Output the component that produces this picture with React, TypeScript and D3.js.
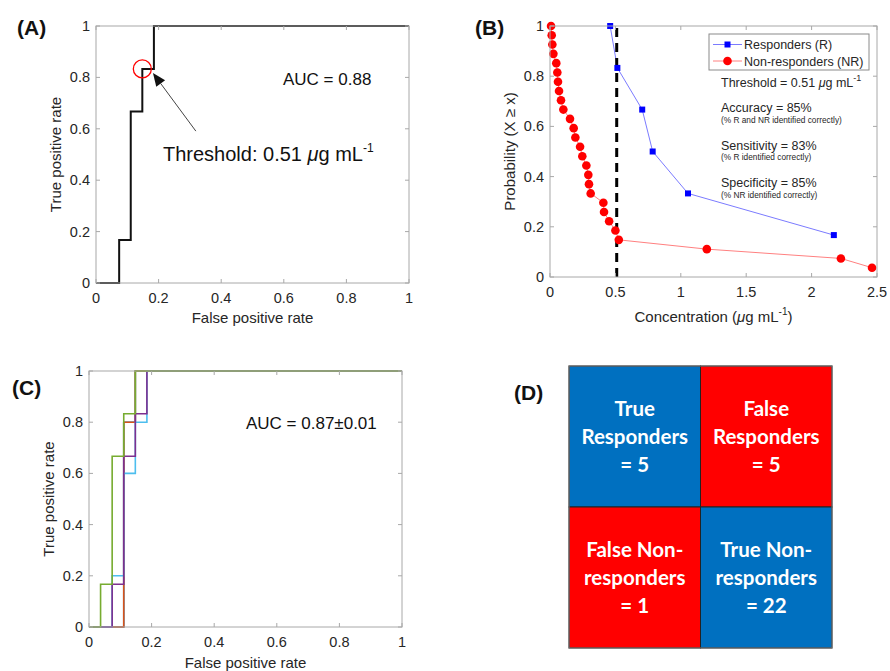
import React from 'react';
import * as d3 from 'd3';

// ---- data ----
// Panel A: ROC vertices (false positive rate, true positive rate)
const rocFpr = [0, 0.074, 0.111, 0.148, 0.185, 1];
const rocTpr = [0, 0.167, 0.667, 0.833, 1, 1];
const thresholdPoint = [0.148, 0.833];

// Panel B: cumulative probability P(X >= x) per group
const respConc = [0.46, 0.515, 0.705, 0.785, 1.055, 2.17];
const respProb = [1, 0.833, 0.667, 0.5, 0.333, 0.167];
const nonRespConc = [0.008, 0.013, 0.018, 0.026, 0.048, 0.056, 0.061, 0.069, 0.084, 0.102, 0.153, 0.181, 0.194,
  0.23, 0.247, 0.278, 0.293, 0.298, 0.311, 0.408, 0.413, 0.452, 0.5, 0.526, 1.199, 2.224, 2.462];
const nonRespProb = [1, 0.963, 0.926, 0.889, 0.852, 0.815, 0.778, 0.741, 0.704, 0.667, 0.63, 0.593, 0.556,
  0.519, 0.481, 0.444, 0.407, 0.37, 0.333, 0.296, 0.259, 0.222, 0.185, 0.148, 0.111, 0.074, 0.037];
const thresholdConc = 0.51;

// Panel C: cross-validation ROC curves
const cvColors = ['#0072BD', '#D95319', '#4DBEEE', '#7E2F8E', '#77AC30'];
const cvFpr = [
  [0, 0.111, 0.148, 1],
  [0, 0.111, 0.148, 1],
  [0, 0.074, 0.111, 0.148, 0.185, 1],
  [0, 0.074, 0.111, 0.148, 0.185, 1],
  [0, 0.037, 0.074, 0.111, 0.148, 1],
];
const cvTpr = [
  [0, 0.8, 1, 1],
  [0, 0.8, 1, 1],
  [0, 0.2, 0.6, 0.8, 1, 1],
  [0, 0.167, 0.667, 0.833, 1, 1],
  [0, 0.167, 0.667, 0.833, 1, 1],
];

// Panel D: confusion matrix
const cellLines = [
  ['True', 'Responders', '= 5'],
  ['False', 'Responders', '= 5'],
  ['False Non-', 'responders', '= 1'],
  ['True Non-', 'responders', '= 22'],
];
const cellColors = ['#0070C0', '#FF0000', '#FF0000', '#0070C0'];

const rateTicks = [0, 0.2, 0.4, 0.6, 0.8, 1];
const concTicks = [0, 0.5, 1, 1.5, 2, 2.5];

const FONT = '"Liberation Sans", Arial, Helvetica, sans-serif';
const TXT = '#262626';

type AxesProps = {
  x: d3.ScaleLinear<number, number>;
  y: d3.ScaleLinear<number, number>;
  xTicks: number[];
  yTicks: number[];
  xLabel: React.ReactNode;
  yLabel: React.ReactNode;
  xLabelGap?: number;
  children?: React.ReactNode;
};

const Axes = ({ x, y, xTicks, yTicks, xLabel, yLabel, xLabelGap = 40, children }: AxesProps) => {
  const [l, r] = x.range();
  const [b, t] = y.range();
  const tl = 4;
  return (
    <g fontFamily={FONT}>
      <rect x={l} y={t} width={r - l} height={b - t} fill="#fff" />
      {children}
      <rect x={l} y={t} width={r - l} height={b - t} fill="none" stroke="#a8a8a8" strokeWidth={1} />
      {xTicks.map(v => (
        <g key={'x' + v}>
          <line x1={x(v)} x2={x(v)} y1={b} y2={b - tl} stroke="#a8a8a8" />
          <line x1={x(v)} x2={x(v)} y1={t} y2={t + tl} stroke="#a8a8a8" />
          <text x={x(v)} y={b + 20} textAnchor="middle" fontSize={14.5} fill={TXT}>{String(v)}</text>
        </g>
      ))}
      {yTicks.map(v => (
        <g key={'y' + v}>
          <line x1={l} x2={l + tl} y1={y(v)} y2={y(v)} stroke="#a8a8a8" />
          <line x1={r} x2={r - tl} y1={y(v)} y2={y(v)} stroke="#a8a8a8" />
          <text x={l - 6} y={y(v) + 5} textAnchor="end" fontSize={14.5} fill={TXT}>{String(v)}</text>
        </g>
      ))}
      <text x={(l + r) / 2} y={b + xLabelGap} textAnchor="middle" fontSize={15} fill={TXT}>{xLabel}</text>
      <text transform={`translate(${l - 35},${(t + b) / 2}) rotate(-90)`} textAnchor="middle" fontSize={15} fill={TXT}>{yLabel}</text>
    </g>
  );
};

const PanelLabel = ({ x, y, text }: { x: number; y: number; text: string }) => (
  <text x={x} y={y} fontFamily={FONT} fontWeight="bold" fontSize={21} fill="#111">{text}</text>
);

const PanelA = () => {
  const x = d3.scaleLinear().domain([0, 1]).range([96, 409]);
  const y = d3.scaleLinear().domain([0, 1]).range([283, 26]);
  const pts = rocFpr.map((f, i) => [f, rocTpr[i]] as [number, number]);
  const line = d3.line<[number, number]>().x(d => x(d[0])).y(d => y(d[1])).curve(d3.curveStepAfter);
  const tip = [x(0.182), y(0.817)];
  const tail = [x(0.319), y(0.591)];
  const ang = Math.atan2(tip[1] - tail[1], tip[0] - tail[0]);
  const ah = 13, aw = 5.5;
  const base = [tip[0] - ah * Math.cos(ang), tip[1] - ah * Math.sin(ang)];
  const head = [
    tip,
    [base[0] + aw * Math.sin(ang), base[1] - aw * Math.cos(ang)],
    [base[0] - aw * Math.sin(ang), base[1] + aw * Math.cos(ang)],
  ];
  return (
    <g>
      <Axes x={x} y={y} xTicks={rateTicks} yTicks={rateTicks} xLabel="False positive rate" yLabel="True positive rate">
        <path d={line(pts) || ''} fill="none" stroke="#111" strokeWidth={2} />
      </Axes>
      <circle cx={x(thresholdPoint[0])} cy={y(thresholdPoint[1])} r={9} fill="none" stroke="#f00" strokeWidth={1.3} />
      <line x1={tail[0]} y1={tail[1]} x2={base[0]} y2={base[1]} stroke="#444" strokeWidth={1} />
      <polygon points={head.map(p => p.join(',')).join(' ')} fill="#111" />
      <text x={283} y={85} fontFamily={FONT} fontSize={17} fill="#111">AUC = 0.88</text>
      <text x={163} y={161} fontFamily={FONT} fontSize={20} fill="#111">
        Threshold: 0.51 <tspan fontStyle="italic">μ</tspan>g mL<tspan dy={-9} fontSize={12}>-1</tspan>
      </text>
      <PanelLabel x={17} y={35} text="(A)" />
    </g>
  );
};

const PanelB = () => {
  const x = d3.scaleLinear().domain([0, 2.5]).range([550, 877]);
  const y = d3.scaleLinear().domain([0, 1]).range([277, 26]);
  const line = d3.line<[number, number]>().x(d => x(d[0])).y(d => y(d[1]));
  const resp = respConc.map((c, i) => [c, respProb[i]] as [number, number]);
  const non = nonRespConc.map((c, i) => [c, nonRespProb[i]] as [number, number]);
  const lx = 709, ly = 34;
  const small = 8.3;
  return (
    <g fontFamily={FONT}>
      <Axes x={x} y={y} xTicks={concTicks} yTicks={rateTicks} xLabelGap={45}
        xLabel={<>Concentration (<tspan fontStyle="italic">μ</tspan>g mL<tspan dy={-7} fontSize={10}>-1</tspan><tspan dy={7}>)</tspan></>}
        yLabel={<>Probability (X ≥ x)</>}>
        <path d={line(non) || ''} fill="none" stroke="#ff8080" strokeWidth={1} />
        <path d={line(resp) || ''} fill="none" stroke="#7b7bff" strokeWidth={1} />
        <line x1={x(thresholdConc)} x2={x(thresholdConc)} y1={y(0)} y2={y(1)} stroke="#000" strokeWidth={3} strokeDasharray="9,6" />
        {non.map((d, i) => <circle key={i} cx={x(d[0])} cy={y(d[1])} r={4.3} fill="#ff0000" />)}
        {resp.map((d, i) => <rect key={i} x={x(d[0]) - 3} y={y(d[1]) - 3} width={6} height={6} fill="#0000ff" />)}
      </Axes>
      <rect x={lx} y={ly} width={160} height={36} fill="#fff" stroke="#8a8a8a" strokeWidth={1} />
      <line x1={713} x2={742} y1={44.5} y2={44.5} stroke="#7b7bff" />
      <rect x={724.5} y={41.5} width={6} height={6} fill="#0000ff" />
      <text x={744} y={49} fontSize={12.5} fill={TXT}>Responders (R)</text>
      <line x1={713} x2={742} y1={61} y2={61} stroke="#ff8080" />
      <circle cx={727.5} cy={61} r={4.3} fill="#ff0000" />
      <text x={744} y={65.5} fontSize={12.5} fill={TXT}>Non-responders (NR)</text>
      <text x={721} y={87} fontSize={12.5} fill={TXT}>
        Threshold = 0.51 <tspan fontStyle="italic">μ</tspan>g mL<tspan dy={-6} fontSize={9}>-1</tspan>
      </text>
      <text x={721} y={112} fontSize={12.5} fill={TXT}>Accuracy = 85%</text>
      <text x={721} y={123} fontSize={small} fill={TXT}>(% R and NR identified correctly)</text>
      <text x={721} y={150} fontSize={12.5} fill={TXT}>Sensitivity = 83%</text>
      <text x={721} y={160} fontSize={small} fill={TXT}>(% R identified correctly)</text>
      <text x={721} y={187} fontSize={12.5} fill={TXT}>Specificity = 85%</text>
      <text x={721} y={198} fontSize={small} fill={TXT}>(% NR identified correctly)</text>
      <PanelLabel x={475} y={35} text="(B)" />
    </g>
  );
};

const PanelC = () => {
  const x = d3.scaleLinear().domain([0, 1]).range([89, 402]);
  const y = d3.scaleLinear().domain([0, 1]).range([627, 371]);
  const line = d3.line<[number, number]>().x(d => x(d[0])).y(d => y(d[1])).curve(d3.curveStepAfter);
  return (
    <g>
      <Axes x={x} y={y} xTicks={rateTicks} yTicks={rateTicks} xLabel="False positive rate" yLabel="True positive rate" xLabelGap={41}>
        {cvFpr.map((fs, k) => (
          <path key={k} d={line(fs.map((f, i) => [f, cvTpr[k][i]] as [number, number])) || ''}
            fill="none" stroke={cvColors[k]} strokeWidth={1.6} />
        ))}
      </Axes>
      <text x={246} y={429} fontFamily={FONT} fontSize={17} fill="#111">AUC = 0.87±0.01</text>
      <PanelLabel x={12} y={395} text="(C)" />
    </g>
  );
};

const PanelD = () => {
  const x = d3.scaleBand<number>().domain([0, 1]).range([569, 832]);
  const y = d3.scaleBand<number>().domain([0, 1]).range([366, 648]);
  return (
    <g>
      {cellLines.map((lines, i) => {
        const c = i % 2, r = Math.floor(i / 2);
        const cx = (x(c) || 0) + x.bandwidth() / 2;
        const cy = (y(r) || 0) + y.bandwidth() / 2;
        return (
          <g key={i}>
            <rect x={x(c)} y={y(r)} width={x.bandwidth()} height={y.bandwidth()} fill={cellColors[i]} stroke="#222" strokeWidth={1} />
            {lines.map((s, j) => (
              <text key={j} x={cx} y={cy + (j - 1) * 28 + 7} textAnchor="middle" fill="#fff"
                fontFamily="Lato, 'Open Sans', sans-serif" fontWeight="bold" fontSize={20.5}>{s}</text>
            ))}
          </g>
        );
      })}
      <rect x={569} y={366} width={263} height={282} fill="none" stroke="#777" strokeWidth={1} />
      <PanelLabel x={514} y={400} text="(D)" />
    </g>
  );
};

const App = () => (
  <svg width={890} height={671} style={{ position: 'absolute', left: 0, top: 0, background: '#fff' }}>
    <rect width={890} height={671} fill="#fff" />
    <PanelA />
    <PanelB />
    <PanelC />
    <PanelD />
  </svg>
);

export default App;
